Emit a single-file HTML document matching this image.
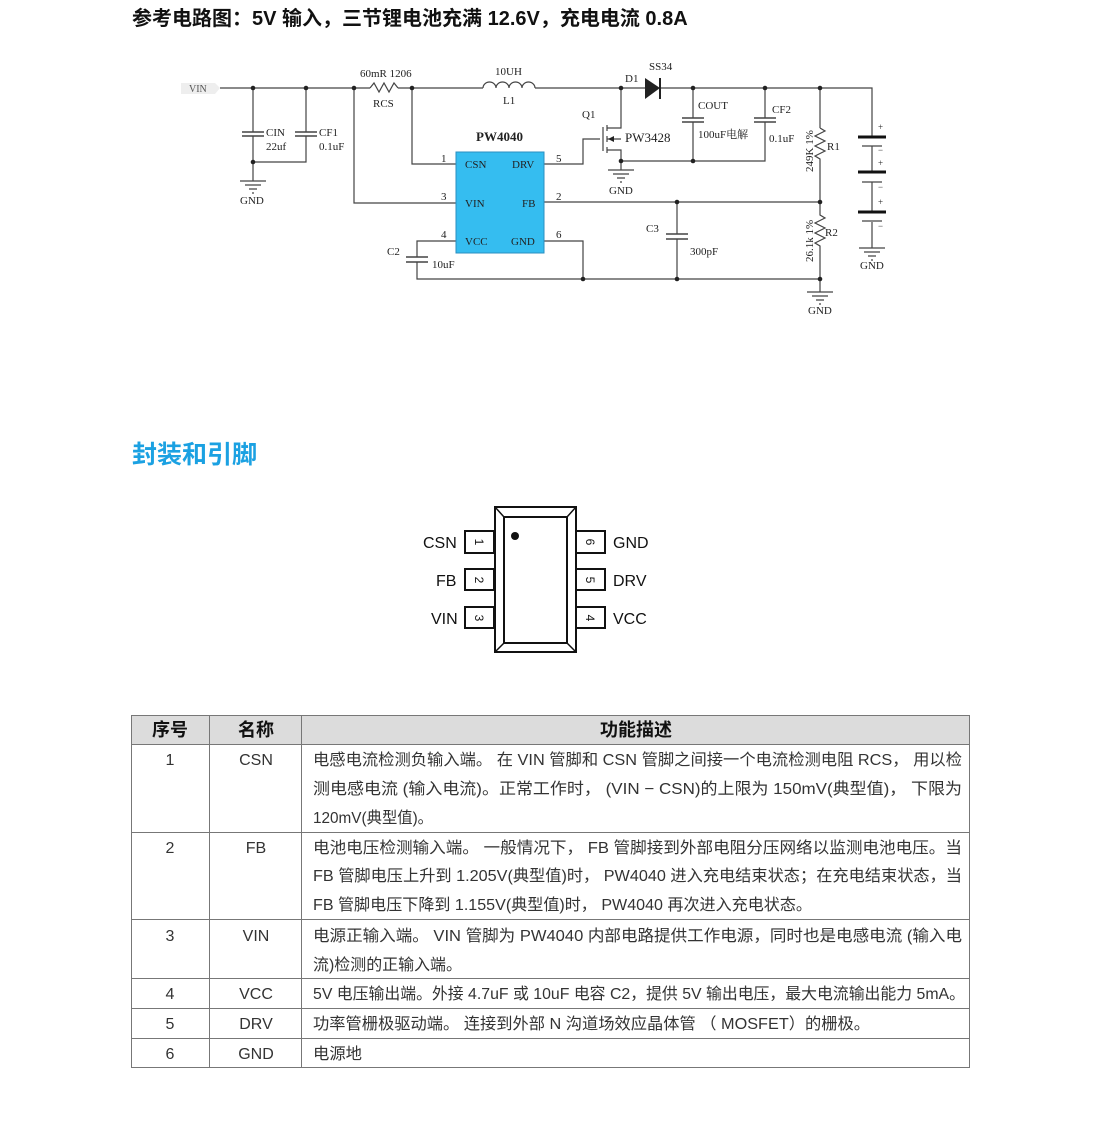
<!DOCTYPE html>
<html><head><meta charset="utf-8"><style>
html,body{margin:0;padding:0;background:#fff}
svg{display:block}
.s{font-family:"Liberation Serif","Noto Serif CJK SC",serif;font-size:11px;fill:#222}
.t{font-family:"Liberation Sans","Noto Sans CJK SC",sans-serif;font-size:16px;fill:#333}
.h{font-family:"Liberation Sans","Noto Sans CJK SC",sans-serif;font-size:18px;font-weight:bold;fill:#111}
</style></head><body>
<svg width="1102" height="1125" viewBox="0 0 1102 1125" xmlns="http://www.w3.org/2000/svg">
<text x="132" y="25" class="h" style="font-size:20px">参考电路图：5V 输入，三节锂电池充满 12.6V，充电电流 0.8A</text>

<g stroke="#444" stroke-width="1.2" fill="none">
<path d="M220 88H370 M398 88H483 M535 88H645 M660 88H872V134"/>
<path d="M370 88l4-5 5 9 5-9 5 9 5-9 4 5"/>
<path d="M483 88a6.5 6 0 0 1 13 0a6.5 6 0 0 1 13 0a6.5 6 0 0 1 13 0a6.5 6 0 0 1 13 0"/>
<path d="M253 88V132 M253 136V181 M306 88V132 M306 136V162H253"/>
<path d="M242 132H264 M242 136H264 M295 132H317 M295 136H317" stroke-width="1.5"/>
<path d="M240 181H266 M245 185H261 M249 189H257 M252 193H254"/>
<path d="M608 170H634 M613 174H629 M617 178H625 M620 182H622"/>
<path d="M807 292H833 M812 296H828 M816 300H824 M819 304H821"/>
<path d="M859 248H885 M864 252H880 M868 256H876 M871 260H873"/>
<path d="M412 88V164H456 M354 88V203H456"/>
<path d="M456 241H417V257 M417 262V279H820 M544 241H583V279"/>
<path d="M406 257H428 M406 262H428" stroke-width="1.5"/>
<path d="M544 164H583V139H600 M603 127V151"/>
<path d="M607 125V131 M607 136V142 M607 147V153 M607 128H621V88 M607 150H621V161 M607 139H621 M621 161H693 M693 88V118 M693 122V161H765V122 M765 118V88"/>
<path d="M682 118H704 M682 122H704 M754 118H776 M754 122H776" stroke-width="1.5"/>
<path d="M621 161V170"/>
<path d="M544 202H820 M677 202V234 M677 239V279"/>
<path d="M666 234H688 M666 239H688" stroke-width="1.5"/>
<path d="M820 88V128 M820 128l5 3-10 5 10 5-10 5 10 5-10 5 5 3V202V215l5 3-10 5 10 5-10 5 10 5-10 5 5 3V292"/>
<path d="M872 134V138 M872 146V172 M872 182V212 M872 222V248"/>
<path d="M862 146H882 M862 182H882 M862 221H882"/>
</g>
<g stroke="#111" stroke-width="3"><path d="M858 137H886 M858 172H886 M858 212H886"/></g>
<path d="M645 78L660 88L645 99Z" fill="#222"/><path d="M660 78V99" stroke="#222" stroke-width="2"/>
<path d="M608 139l6-3v6z" fill="#222"/>
<g fill="#222">
<circle cx="253" cy="88" r="2.3"/><circle cx="306" cy="88" r="2.3"/><circle cx="354" cy="88" r="2.3"/><circle cx="412" cy="88" r="2.3"/><circle cx="621" cy="88" r="2.3"/><circle cx="693" cy="88" r="2.3"/><circle cx="765" cy="88" r="2.3"/><circle cx="820" cy="88" r="2.3"/>
<circle cx="253" cy="162" r="2.3"/><circle cx="621" cy="161" r="2.3"/><circle cx="693" cy="161" r="2.3"/>
<circle cx="677" cy="202" r="2.3"/><circle cx="820" cy="202" r="2.3"/>
<circle cx="583" cy="279" r="2.3"/><circle cx="677" cy="279" r="2.3"/><circle cx="820" cy="279" r="2.3"/>
</g>
<path d="M181 83H215L220 88L215 94H181Z" fill="#eee"/>
<text x="189" y="92" class="s" style="font-size:10px;fill:#555">VIN</text>
<rect x="456" y="152" width="88" height="101" fill="#35bdf0" stroke="#2a8fc0"/>
<g class="s">
<text x="465" y="168">CSN</text><text x="512" y="168">DRV</text>
<text x="465" y="207">VIN</text><text x="522" y="207">FB</text>
<text x="465" y="245">VCC</text><text x="511" y="245">GND</text>
<text x="441" y="162">1</text><text x="556" y="162">5</text><text x="441" y="200">3</text><text x="556" y="200">2</text><text x="441" y="238">4</text><text x="556" y="238">6</text>
<text x="476" y="141" style="font-weight:bold;font-size:13px">PW4040</text>
<text x="360" y="77">60mR 1206</text><text x="373" y="107">RCS</text>
<text x="495" y="75">10UH</text><text x="503" y="104">L1</text>
<text x="266" y="136">CIN</text><text x="266" y="150">22uf</text>
<text x="319" y="136">CF1</text><text x="319" y="150">0.1uF</text>
<text x="240" y="204">GND</text><text x="609" y="194">GND</text><text x="808" y="314">GND</text><text x="860" y="269">GND</text>
<text x="649" y="70">SS34</text><text x="625" y="82">D1</text><text x="582" y="118">Q1</text>
<text x="625" y="142" style="font-size:13px">PW3428</text>
<text x="698" y="109">COUT</text><text x="698" y="138">100uF电解</text>
<text x="772" y="113">CF2</text><text x="769" y="142">0.1uF</text>
<text x="827" y="150">R1</text><text x="825" y="236">R2</text>
<text x="646" y="232">C3</text><text x="690" y="255">300pF</text>
<text x="387" y="255">C2</text><text x="432" y="268">10uF</text>
<text transform="translate(813,172) rotate(-90)">249K  1%</text>
<text transform="translate(813,262) rotate(-90)">26.1k  1%</text>
<text x="878" y="130" style="font-size:9px">+</text><text x="878" y="153" style="font-size:9px">−</text><text x="878" y="166" style="font-size:9px">+</text><text x="878" y="190" style="font-size:9px">−</text><text x="878" y="205" style="font-size:9px">+</text><text x="878" y="229" style="font-size:9px">−</text>
</g>

<text x="132" y="463" style="font-family:'Liberation Sans','Noto Sans CJK SC',sans-serif;font-size:25px;font-weight:bold;fill:#1ba1e2">封装和引脚</text>

<g stroke="#111" stroke-width="2" fill="#fff">
<rect x="465" y="531" width="29" height="22"/><rect x="465" y="569" width="29" height="21"/><rect x="465" y="607" width="29" height="21"/>
<rect x="576" y="531" width="29" height="22"/><rect x="576" y="569" width="29" height="21"/><rect x="576" y="607" width="29" height="21"/>
<rect x="495" y="507" width="81" height="145"/>
<rect x="504" y="517" width="63" height="126"/>
<path d="M495 507L504 517M576 507L567 517M495 652L504 643M576 652L567 643" stroke-width="1.5"/>
</g>
<circle cx="515" cy="536" r="4" fill="#111"/>
<g style="font-family:'Liberation Sans',sans-serif;font-size:16px;fill:#111">
<text x="423" y="548">CSN</text><text x="436" y="586">FB</text><text x="431" y="624">VIN</text>
<text x="613" y="548">GND</text><text x="613" y="586">DRV</text><text x="613" y="624">VCC</text>
<g style="font-size:12px">
<text transform="translate(475,542) rotate(90)" text-anchor="middle">1</text>
<text transform="translate(475,580) rotate(90)" text-anchor="middle">2</text>
<text transform="translate(475,618) rotate(90)" text-anchor="middle">3</text>
<text transform="translate(586,542) rotate(90)" text-anchor="middle">6</text>
<text transform="translate(586,580) rotate(90)" text-anchor="middle">5</text>
<text transform="translate(586,618) rotate(90)" text-anchor="middle">4</text>
</g></g>

<rect x="131" y="715" width="839" height="29" fill="#dcdcdc"/>
<g stroke="#777" stroke-width="1" fill="none">
<rect x="131.5" y="715.5" width="838" height="352"/>
<path d="M131 744.5H970M131 832.5H970M131 919.5H970M131 978.5H970M131 1008.5H970M131 1038.5H970M209.5 715V1068M301.5 715V1068"/>
</g>
<g style="font-family:'Liberation Sans','Noto Sans CJK SC',sans-serif;font-size:18px;font-weight:bold;fill:#111" text-anchor="middle">
<text x="170" y="736">序号</text><text x="256" y="736">名称</text><text x="636" y="736">功能描述</text>
</g>
<g class="t" text-anchor="middle">
<text x="170" y="765">1</text><text x="256" y="765">CSN</text>
<text x="170" y="853">2</text><text x="256" y="853">FB</text>
<text x="170" y="941">3</text><text x="256" y="941">VIN</text>
<text x="170" y="999">4</text><text x="256" y="999">VCC</text>
<text x="170" y="1029">5</text><text x="256" y="1029">DRV</text>
<text x="170" y="1059">6</text><text x="256" y="1059">GND</text>
</g>
<g class="t">
<text x="313" y="765" textLength="649" lengthAdjust="spacingAndGlyphs">电感电流检测负输入端。 在 VIN 管脚和 CSN 管脚之间接一个电流检测电阻 RCS， 用以检</text>
<text x="313" y="794" textLength="649" lengthAdjust="spacingAndGlyphs">测电感电流 (输入电流)。正常工作时，  (VIN −  CSN)的上限为 150mV(典型值)， 下限为</text>
<text x="313" y="823" textLength="120" lengthAdjust="spacingAndGlyphs">120mV(典型值)。</text>
<text x="313" y="853" textLength="649" lengthAdjust="spacingAndGlyphs">电池电压检测输入端。 一般情况下， FB 管脚接到外部电阻分压网络以监测电池电压。当</text>
<text x="313" y="881" textLength="649" lengthAdjust="spacingAndGlyphs">FB 管脚电压上升到 1.205V(典型值)时， PW4040 进入充电结束状态；在充电结束状态，当</text>
<text x="313" y="910" textLength="499" lengthAdjust="spacingAndGlyphs">FB 管脚电压下降到 1.155V(典型值)时，  PW4040 再次进入充电状态。</text>
<text x="313" y="941" textLength="649" lengthAdjust="spacingAndGlyphs">电源正输入端。 VIN 管脚为 PW4040 内部电路提供工作电源，同时也是电感电流 (输入电</text>
<text x="313" y="970" textLength="149" lengthAdjust="spacingAndGlyphs">流)检测的正输入端。</text>
<text x="313" y="999" textLength="652" lengthAdjust="spacingAndGlyphs">5V 电压输出端。外接 4.7uF 或 10uF 电容 C2，提供 5V 输出电压，最大电流输出能力 5mA。</text>
<text x="313" y="1029" textLength="557" lengthAdjust="spacingAndGlyphs">功率管栅极驱动端。 连接到外部 N 沟道场效应晶体管 （ MOSFET）的栅极。</text>
<text x="313" y="1059" textLength="49" lengthAdjust="spacingAndGlyphs">电源地</text>
</g>
</svg>
</body></html>
